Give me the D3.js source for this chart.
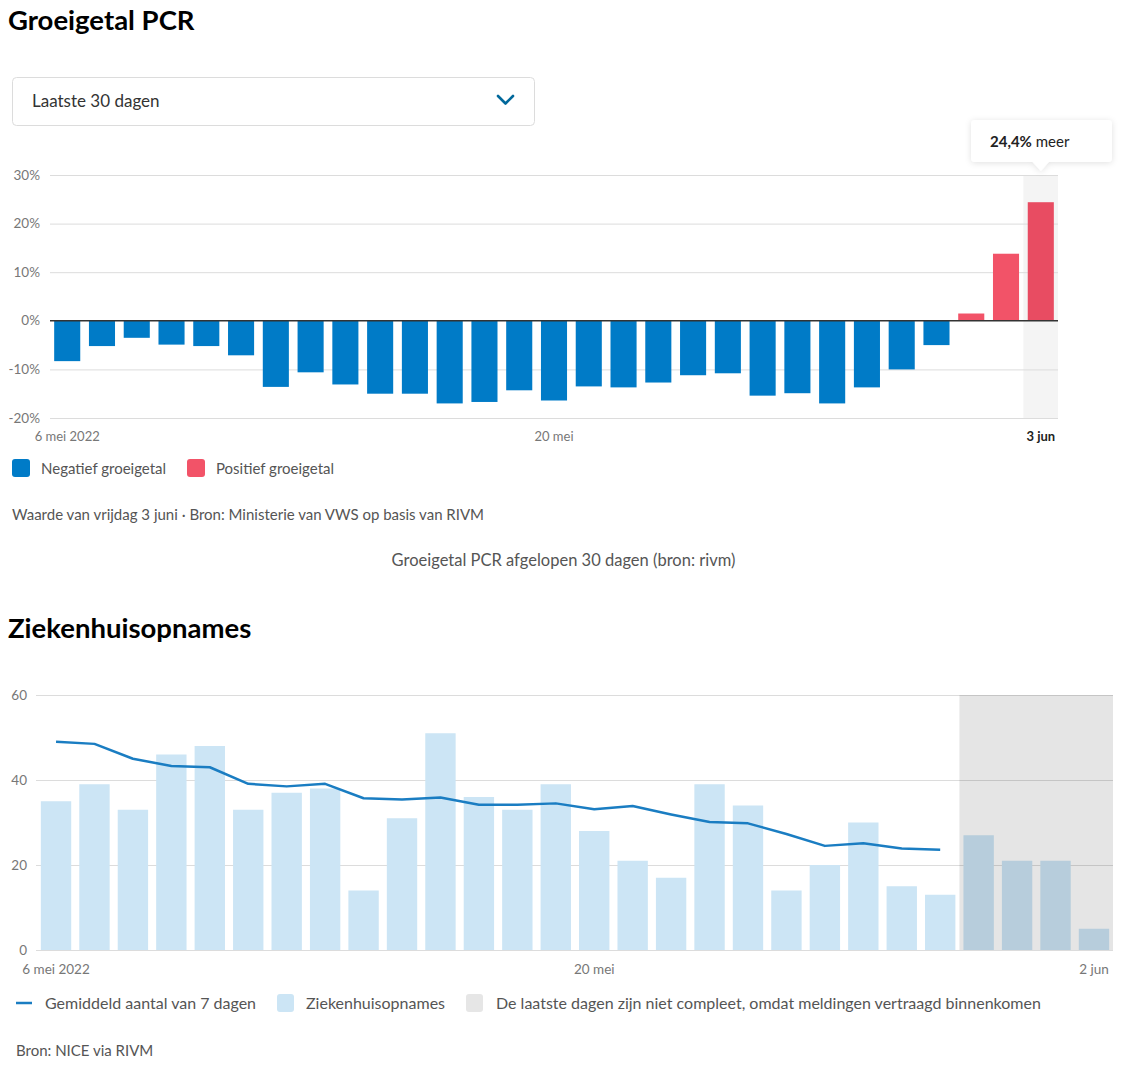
<!DOCTYPE html>
<html>
<head>
<meta charset="utf-8">
<script src="https://cdn.jsdelivr.net/npm/d3@7"></script>
<style>
  html, body { margin: 0; padding: 0; background: #fff; }
  svg { display: block; font-family: Lato, "Noto Sans", sans-serif; }
</style>
</head>
<body>
<svg id="chart" width="1126" height="1067"></svg>
<script>
// ---------- DATA: Groeigetal PCR ----------
const pcrDates = ["2022-05-06","2022-05-07","2022-05-08","2022-05-09","2022-05-10","2022-05-11","2022-05-12",
  "2022-05-13","2022-05-14","2022-05-15","2022-05-16","2022-05-17","2022-05-18","2022-05-19","2022-05-20",
  "2022-05-21","2022-05-22","2022-05-23","2022-05-24","2022-05-25","2022-05-26","2022-05-27","2022-05-28",
  "2022-05-29","2022-05-30","2022-05-31","2022-06-01","2022-06-02","2022-06-03"];
const pcrValues = [-8.3,-5.2,-3.5,-4.9,-5.2,-7.1,-13.6,-10.6,-13.1,-15.0,-15.0,-17.0,-16.7,-14.3,-16.4,
  -13.5,-13.7,-12.7,-11.2,-10.8,-15.4,-14.9,-17.0,-13.7,-10.0,-5.0,1.5,13.8,24.4];
const pcrYTicks = [-20,-10,0,10,20,30];
const pcrXTickDates = ["2022-05-06","2022-05-20","2022-06-03"];
const pcrXTickLabels = ["6 mei 2022","20 mei","3 jun"];

// ---------- DATA: Ziekenhuisopnames ----------
const zhDates = ["2022-05-06","2022-05-07","2022-05-08","2022-05-09","2022-05-10","2022-05-11","2022-05-12",
  "2022-05-13","2022-05-14","2022-05-15","2022-05-16","2022-05-17","2022-05-18","2022-05-19","2022-05-20",
  "2022-05-21","2022-05-22","2022-05-23","2022-05-24","2022-05-25","2022-05-26","2022-05-27","2022-05-28",
  "2022-05-29","2022-05-30","2022-05-31","2022-06-01","2022-06-02"];
const zhValues = [35,39,33,46,48,33,37,38,14,31,51,36,33,39,28,21,17,39,34,14,20,30,15,13,27,21,21,5];
const zhAvg = [49.0,48.5,45.0,43.3,43.0,39.1,38.5,39.1,35.7,35.4,35.9,34.2,34.2,34.5,33.1,33.9,31.9,30.1,29.8,27.3,24.5,25.1,23.9,23.6];
const zhIncompleteFrom = "2022-05-30";
const zhYTicks = [0,20,40,60];
const zhXTickDates = ["2022-05-06","2022-05-20","2022-06-02"];
const zhXTickLabels = ["6 mei 2022","20 mei","2 jun"];

// ---------- STYLE ----------
const C = {
  blue: "#007bc7", red: "#f25368", redActive: "#e84c62",
  light: "#cce5f5", line: "#1a7dc2", grid: "#dcdcdc", axisText: "#777",
  text: "#555", title: "#000"
};

const svg = d3.select("#chart");
const defs = svg.append("defs");
const f = defs.append("filter").attr("id","shadow").attr("x","-20%").attr("y","-30%").attr("width","140%").attr("height","170%");
f.append("feDropShadow").attr("dx",0).attr("dy",1).attr("stdDeviation",3).attr("flood-color","#000").attr("flood-opacity",0.12);

// ===== Section 1 =====
svg.append("text").attr("x",8).attr("y",30).attr("font-size",27.5).attr("font-weight",700)
  .attr("fill",C.title).text("Groeigetal PCR");

// dropdown
svg.append("rect").attr("x",12.5).attr("y",77.5).attr("width",522).attr("height",48).attr("rx",4)
  .attr("fill","#fff").attr("stroke","#dcdcdc");
svg.append("text").attr("x",32).attr("y",106.5).attr("font-size",17).attr("fill","#333").text("Laatste 30 dagen");
svg.append("path").attr("d","M498,96 L505.5,103.5 L513,96").attr("fill","none")
  .attr("stroke","#01689b").attr("stroke-width",2.6).attr("stroke-linecap","round").attr("stroke-linejoin","round");

const x1 = d3.scaleBand().domain(pcrDates).range([50,1058]).paddingInner(0.25).paddingOuter(0.12);
const y1 = d3.scaleLinear().domain([-20,30]).range([418,175]);
const step1 = x1.step();

// highlight band for last day
const lastD = pcrDates[pcrDates.length-1];
svg.append("rect").attr("x", x1(lastD) - step1*x1.paddingInner()/2).attr("y", y1(30))
  .attr("width", 1058 - (x1(lastD) - step1*x1.paddingInner()/2)).attr("height", y1(-20)-y1(30))
  .attr("fill","#f4f4f4");

// grid
const g1 = svg.append("g");
g1.selectAll("line.grid").data(pcrYTicks.filter(d=>d!==0)).join("line")
  .attr("x1",50).attr("x2",1058).attr("y1",d=>y1(d)+0.5).attr("y2",d=>y1(d)+0.5)
  .attr("stroke",C.grid).attr("stroke-width",1);
g1.selectAll("text.yl").data(pcrYTicks).join("text")
  .attr("x",40).attr("y",d=>y1(d)+4.5).attr("text-anchor","end").attr("font-size",13.5)
  .attr("fill",C.axisText).text(d=>d+"%");

// bars
svg.append("g").selectAll("rect").data(pcrDates.map((d,i)=>({d,v:pcrValues[i],i}))).join("rect")
  .attr("x",d=>x1(d.d)).attr("width",x1.bandwidth())
  .attr("y",d=>y1(Math.max(0,d.v))).attr("height",d=>Math.abs(y1(d.v)-y1(0)))
  .attr("fill",d=>d.v<0?C.blue:(d.i===pcrDates.length-1?C.redActive:C.red));

// zero line
svg.append("line").attr("x1",50).attr("x2",1058).attr("y1",y1(0)).attr("y2",y1(0))
  .attr("stroke","#333").attr("stroke-width",1.5);

// x labels
svg.append("g").selectAll("text").data(pcrXTickDates).join("text")
  .attr("x",d=>x1(d)+x1.bandwidth()/2).attr("y",441).attr("text-anchor","middle")
  .attr("font-size",13).attr("font-weight",(d,i)=>i===pcrXTickDates.length-1?700:400)
  .attr("fill",(d,i)=>i===pcrXTickDates.length-1?"#222":C.axisText)
  .text((d,i)=>pcrXTickLabels[i]);

// tooltip
const tipX = x1(lastD)+x1.bandwidth()/2;
const tL = 971, tW = 141, tT = 120, tH = 42;
const tip = svg.append("g");
tip.append("path")
  .attr("d",`M${tL+4},${tT} H${tL+tW-4} A4,4 0 0 1 ${tL+tW},${tT+4} V${tT+tH-4} A4,4 0 0 1 ${tL+tW-4},${tT+tH}
     H${tipX+8} L${tipX},${tT+tH+9} L${tipX-8},${tT+tH} H${tL+4} A4,4 0 0 1 ${tL},${tT+tH-4} V${tT+4} A4,4 0 0 1 ${tL+4},${tT} Z`)
  .attr("fill","#fff").attr("filter","url(#shadow)");
const tt = tip.append("text").attr("x",990).attr("y",146.5).attr("font-size",15).attr("fill","#222");
tt.append("tspan").attr("font-weight",700).text(String(pcrValues[pcrValues.length-1]).replace(".",",")+"%");
tt.append("tspan").text(" meer");

// legend
const leg1 = [{c:C.blue,t:"Negatief groeigetal",x:12},{c:C.red,t:"Positief groeigetal",x:187}];
leg1.forEach(l=>{
  svg.append("rect").attr("x",l.x).attr("y",459).attr("width",18).attr("height",18).attr("rx",3).attr("fill",l.c);
  svg.append("text").attr("x",l.x+29).attr("y",473.5).attr("font-size",15).attr("fill",C.text).text(l.t);
});
svg.append("text").attr("x",12).attr("y",519.5).attr("font-size",15).attr("fill",C.text)
  .text("Waarde van vrijdag 3 juni · Bron: Ministerie van VWS op basis van RIVM");
svg.append("text").attr("x",563.5).attr("y",566).attr("text-anchor","middle").attr("font-size",16.5).attr("fill",C.text)
  .text("Groeigetal PCR afgelopen 30 dagen (bron: rivm)");

// ===== Section 2 =====
svg.append("text").attr("x",8).attr("y",638).attr("font-size",27.5).attr("font-weight",700)
  .attr("fill",C.title).text("Ziekenhuisopnames");

const x2 = d3.scaleBand().domain(zhDates).range([37,1113]).paddingInner(0.21).paddingOuter(0.1);
const y2 = d3.scaleLinear().domain([0,60]).range([950,695]);

svg.append("g").selectAll("line").data(zhYTicks).join("line")
  .attr("x1",36).attr("x2",1113).attr("y1",d=>y2(d)+0.5).attr("y2",d=>y2(d)+0.5)
  .attr("stroke",C.grid).attr("stroke-width",1);
svg.append("g").selectAll("text").data(zhYTicks).join("text")
  .attr("x",27).attr("y",d=>y2(d)+5).attr("text-anchor","end").attr("font-size",13.5)
  .attr("fill",C.axisText).text(d=>d);

svg.append("g").selectAll("rect").data(zhDates.map((d,i)=>({d,v:zhValues[i]}))).join("rect")
  .attr("x",d=>x2(d.d)).attr("width",x2.bandwidth())
  .attr("y",d=>y2(d.v)).attr("height",d=>y2(0)-y2(d.v)).attr("fill",C.light);

const line = d3.line().x((d,i)=>x2(zhDates[i])+x2.bandwidth()/2).y(d=>y2(d));
svg.append("path").datum(zhAvg).attr("d",line).attr("fill","none")
  .attr("stroke",C.line).attr("stroke-width",2.5).attr("stroke-linejoin","round");

// incomplete overlay
const incX = x2(zhIncompleteFrom) - x2.step()*x2.paddingInner()/2;
svg.append("rect").attr("x",incX).attr("y",y2(60)).attr("width",1113-incX).attr("height",y2(0)-y2(60))
  .attr("fill","#000").attr("fill-opacity",0.1);

svg.append("g").selectAll("text").data(zhXTickDates).join("text")
  .attr("x",d=>x2(d)+x2.bandwidth()/2).attr("y",974).attr("text-anchor","middle")
  .attr("font-size",13.5).attr("fill",C.axisText).text((d,i)=>zhXTickLabels[i]);

// legend 2
svg.append("line").attr("x1",16).attr("x2",32).attr("y1",1003).attr("y2",1003).attr("stroke",C.line).attr("stroke-width",2.5);
svg.append("text").attr("x",45).attr("y",1008.5).attr("font-size",16).attr("fill",C.text).text("Gemiddeld aantal van 7 dagen");
svg.append("rect").attr("x",277).attr("y",994).attr("width",17).attr("height",18).attr("rx",3).attr("fill",C.light);
svg.append("text").attr("x",306).attr("y",1008.5).attr("font-size",16).attr("fill",C.text).text("Ziekenhuisopnames");
svg.append("rect").attr("x",466).attr("y",994).attr("width",17).attr("height",18).attr("rx",3).attr("fill","#e6e6e6");
svg.append("text").attr("x",496).attr("y",1008.5).attr("font-size",16).attr("fill",C.text)
  .text("De laatste dagen zijn niet compleet, omdat meldingen vertraagd binnenkomen");
svg.append("text").attr("x",16).attr("y",1056).attr("font-size",15).attr("fill",C.text).text("Bron: NICE via RIVM");
</script>
</body>
</html>
